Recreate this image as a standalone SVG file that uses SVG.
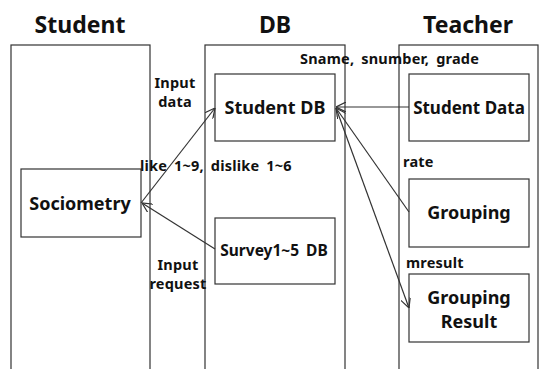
<svg xmlns="http://www.w3.org/2000/svg" width="539" height="369" viewBox="0 0 539 369">
<style>
text{font-family:"Noto Sans","DejaVu Sans",sans-serif;font-weight:bold;fill:#111;}
.title{font-size:23px;text-anchor:middle;}
.node{font-size:18px;text-anchor:middle;}
.lbl{font-size:14.5px;letter-spacing:0.2px;word-spacing:3px;}
.col{fill:none;stroke:#333;stroke-width:1.2;}
.box{fill:#fff;stroke:#333;stroke-width:1.2;}
.edge{fill:none;stroke:#333;stroke-width:1.2;marker-end:url(#arr);}
</style>
<defs>
<marker id="arr" viewBox="0 0 10 10" refX="10" refY="5" markerWidth="10" markerHeight="10" markerUnits="userSpaceOnUse" orient="auto">
<path d="M0,0 L10,5 L0,10" fill="none" stroke="#333" stroke-width="1.2"/>
</marker>
</defs>
<rect width="539" height="369" fill="#fff"/>
<g id="lanes">
<rect class="col" x="11" y="45" width="139" height="340"/>
<rect class="col" x="205" y="45" width="140" height="340"/>
<rect class="col" x="399" y="45" width="139" height="340"/>
<text class="title" x="80" y="33">Student</text>
<text class="title" x="275" y="33">DB</text>
<text class="title" x="468" y="33">Teacher</text>
</g>
<g id="student-db"><rect class="box" x="215" y="74" width="120" height="67"/><text class="node" x="275" y="114">Student DB</text></g>
<g id="student-data"><rect class="box" x="409" y="74" width="120" height="67"/><text class="node" x="469" y="114" style="font-size:17px">Student Data</text></g>
<g id="sociometry"><rect class="box" x="21" y="169" width="120" height="68"/><text class="node" x="80" y="210">Sociometry</text></g>
<g id="survey"><rect class="box" x="215" y="218" width="120" height="66"/><text class="node" x="274" y="256" style="font-size:15.5px;word-spacing:3px">Survey1~5 DB</text></g>
<g id="grouping"><rect class="box" x="409" y="179" width="120" height="68"/><text class="node" x="469" y="219">Grouping</text></g>
<g id="grouping-result"><rect class="box" x="409" y="274" width="120" height="68"/><text class="node" x="469" y="304">Grouping</text><text class="node" x="469" y="328">Result</text></g>
<g id="connectors">
<line class="edge" x1="409" y1="107" x2="336" y2="107"/>
<line class="edge" x1="141" y1="203" x2="215" y2="108"/>
<line class="edge" x1="215" y1="249" x2="142" y2="203"/>
<line class="edge" x1="409" y1="212" x2="336" y2="108"/>
<line class="edge" x1="336" y1="108" x2="409" y2="308"/>
</g>
<g id="labels">
<text class="lbl" x="175" y="88" text-anchor="middle">Input</text>
<text class="lbl" x="175" y="107" text-anchor="middle">data</text>
<text class="lbl" x="140" y="171">like 1~9, dislike 1~6</text>
<text class="lbl" x="300" y="64">Sname, snumber, grade</text>
<text class="lbl" x="403" y="167">rate</text>
<text class="lbl" x="406" y="268">mresult</text>
<text class="lbl" x="178" y="270" text-anchor="middle">Input</text>
<text class="lbl" x="178" y="289" text-anchor="middle">request</text>
</g>
</svg>
